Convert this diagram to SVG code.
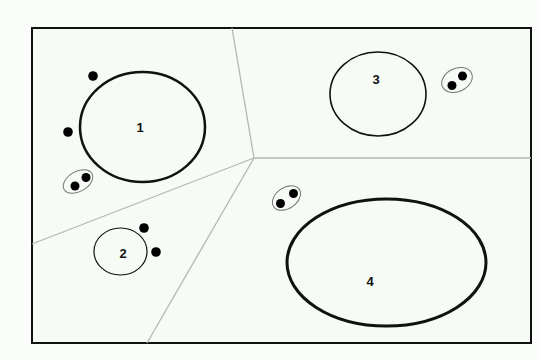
<svg xmlns="http://www.w3.org/2000/svg" width="539" height="360" viewBox="0 0 539 360">
<style>
.lbl{font-family:"Liberation Sans",Arial,sans-serif;font-size:13px;font-weight:bold;fill:#111;text-anchor:middle;dominant-baseline:central}
.edge{stroke:#b4b8b4;stroke-width:1.3;fill:none}
.dot{fill:#000}
.pair{fill:none;stroke:#777;stroke-width:1}
</style>
<rect x="0" y="0" width="539" height="360" fill="#fbfdfb"/>
<rect x="32" y="28" width="499" height="315" fill="#f6fbf6" stroke="#111" stroke-width="2"/>
<g id="connectors">
<line class="edge" x1="232" y1="28" x2="254" y2="158"/>
<line class="edge" x1="254" y1="158" x2="531" y2="158"/>
<line class="edge" x1="254" y1="158" x2="32" y2="244"/>
<line class="edge" x1="254" y1="158" x2="147" y2="343"/>
</g>
<g id="region1">
<ellipse cx="142.5" cy="127" rx="62.5" ry="55" fill="none" stroke="#111" stroke-width="2.5"/>
<text class="lbl" x="140" y="127">1</text>
<circle class="dot" cx="93" cy="76" r="4.8"/>
<circle class="dot" cx="68" cy="132" r="4.8"/>
</g>
<g id="pair1">
<ellipse class="pair" cx="78" cy="181.5" rx="16" ry="10" transform="rotate(-30 78 181.5)"/>
<circle class="dot" cx="75" cy="186" r="4.5"/>
<circle class="dot" cx="86" cy="177.5" r="4.5"/>
</g>
<g id="region2">
<ellipse cx="120.5" cy="251.5" rx="26.5" ry="23.5" fill="none" stroke="#111" stroke-width="1.2"/>
<text class="lbl" x="123" y="253">2</text>
<circle class="dot" cx="144" cy="228" r="4.8"/>
<circle class="dot" cx="156" cy="252" r="4.8"/>
</g>
<g id="region3">
<ellipse cx="378" cy="94" rx="48" ry="42" fill="none" stroke="#111" stroke-width="1.6"/>
<text class="lbl" x="376" y="79">3</text>
</g>
<g id="pair3">
<ellipse class="pair" cx="457" cy="80" rx="16" ry="11.5" transform="rotate(-25 457 80)"/>
<circle class="dot" cx="452" cy="85.5" r="4.5"/>
<circle class="dot" cx="462.5" cy="76" r="4.5"/>
</g>
<g id="region4">
<ellipse cx="386.5" cy="262.5" rx="99.5" ry="63.5" fill="none" stroke="#111" stroke-width="3"/>
<text class="lbl" x="370" y="281">4</text>
</g>
<g id="pair4">
<ellipse class="pair" cx="286.5" cy="198" rx="15.5" ry="10.5" transform="rotate(-35 286.5 198)"/>
<circle class="dot" cx="280.5" cy="203.5" r="4.5"/>
<circle class="dot" cx="293.5" cy="193.5" r="4.5"/>
</g>
</svg>
